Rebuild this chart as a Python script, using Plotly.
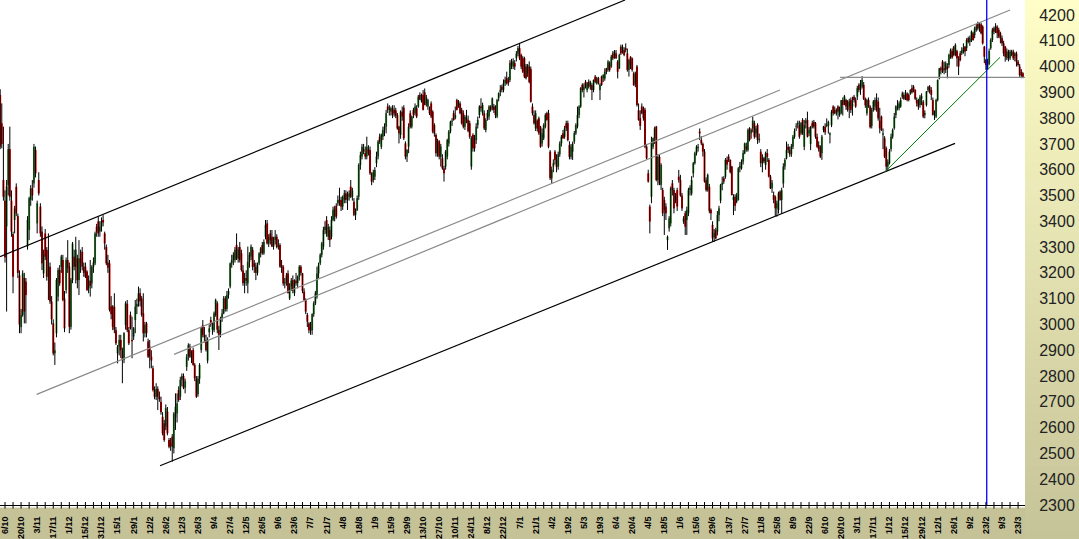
import plotly.graph_objects as go

# ---------------- data ----------------
date_labels = ["6/10","20/10","3/11","17/11","1/12","15/12","31/12","15/1","29/1","12/2",
               "26/2","12/3","26/3","9/4","27/4","12/5","26/5","9/6","23/6","7/7",
               "21/7","4/8","18/8","1/9","15/9","29/9","13/10","27/10","10/11","24/11",
               "8/12","22/12","7/1","21/1","4/2","19/2","5/3","19/3","6/4","20/4",
               "4/5","18/5","1/6","15/6","29/6","13/7","27/7","11/8","25/8","8/9",
               "22/9","6/10","20/10","3/11","17/11","1/12","15/12","29/12","12/1","26/1",
               "9/2","23/2","9/3","23/3"]
first_label_day = 3          # trading-day index of the first date label
days_per_label = 10
days_per_tick = 5

price_ticks = list(range(2300, 4201, 100))
price_min, price_max = 2300, 4258

opens = [
3890,3780,3560,3480,3380,3540,3680,3480,3350,3405,
3534,3420,3190,2990,3037,3180,3166,3302,3366,3483,
3528,3547,3676,3392,3560,3457,3360,3198,3353,3289,
3185,3224,3089,3004,2888,2966,3108,3211,3224,3250,
3100,3134,3250,3224,2991,3172,3263,3224,3256,3172,
3256,3282,3224,3224,3205,3140,3170,3159,3224,3237,
3379,3400,3360,3380,3405,3353,3300,3240,3237,3070,
3069,3069,2978,2888,2914,2940,2900,2862,2998,3080,
2978,3037,2940,2953,3017,3069,3089,3121,3101,3043,
2966,3004,2934,2914,2875,2830,2746,2720,2750,2720,
2700,2642,2617,2604,2662,2552,2540,2565,2520,2640,
2655,2746,2720,2785,2800,2755,2836,2875,2914,2875,
2901,2843,2790,2730,2790,2901,2998,2960,2940,2860,
2970,3017,2980,2978,3037,3082,2980,2966,3024,3043,
3101,3060,3115,3147,3237,3250,3250,3308,3256,3300,
3276,3210,3160,3180,3159,3243,3263,3289,3237,3224,
3200,3237,3276,3308,3276,3340,3392,3314,3353,3340,
3302,3327,3340,3300,3308,3230,3224,3159,3165,3198,
3101,3147,3172,3121,3170,3160,3185,3224,3198,3128,
3095,3037,3004,2990,2978,3040,3082,3108,3198,3237,
3270,3302,3366,3405,3340,3366,3340,3405,3418,3460,
3470,3483,3483,3457,3483,3508,3483,3495,3534,3495,
3476,3425,3444,3495,3618,3651,3680,3664,3651,3680,
3676,3586,3560,3573,3625,3651,3728,3689,3728,3754,
3767,3845,3832,3825,3838,3832,3830,3812,3767,3735,
3825,3840,3702,3651,3689,3819,3767,3832,3819,3838,
3845,3890,3865,3890,3900,3857,3845,3832,3857,3825,
3773,3735,3664,3710,3650,3644,3605,3612,3651,3702,
3748,3786,3819,3800,3870,3845,3857,3832,3819,3767,
3800,3793,3780,3612,3735,3722,3715,3773,3812,3845,
3819,3819,3754,3800,3806,3845,3838,3845,3845,3806,
3877,3900,3922,3909,3935,3955,3950,3948,4019,4000,
4013,4032,4050,4071,4045,4032,4032,4000,3974,4000,
3990,3845,3812,3760,3790,3800,3767,3702,3722,3767,
3819,3819,3670,3567,3612,3670,3638,3612,3660,3702,
3741,3728,3780,3780,3696,3650,3670,3709,3741,3767,
3812,3845,3929,3909,3941,3909,3941,3922,3928,3909,
3961,3935,3955,3909,3961,3954,3954,3993,3987,4013,
4000,4051,4038,4051,4019,3993,4077,4058,4064,4071,
4051,3987,4038,4032,3974,3935,4000,3830,3800,3845,
3838,3832,3689,3586,3457,3495,3689,3722,3767,3560,
3650,3541,3521,3483,3457,3327,3373,3392,3547,3521,
3483,3521,3573,3560,3500,3399,3431,3405,3431,3521,
3508,3586,3625,3664,3683,3748,3715,3700,3670,3560,
3521,3534,3444,3386,3340,3366,3360,3424,3480,3541,
3567,3573,3638,3651,3638,3612,3483,3495,3476,3483,
3605,3605,3631,3664,3690,3676,3760,3741,3760,3780,
3740,3773,3715,3670,3625,3645,3618,3664,3638,3573,
3528,3502,3495,3450,3444,3515,3483,3547,3612,3644,
3689,3676,3660,3689,3728,3767,3775,3773,3741,3793,
3689,3780,3793,3741,3700,3780,3785,3780,3728,3695,
3689,3664,3754,3767,3775,3770,3735,3773,3845,3832,
3819,3845,3812,3819,3870,3857,3870,3864,3845,3870,
3845,3883,3870,3883,3929,3909,3922,3929,3875,3819,
3870,3845,3770,3832,3845,3870,3864,3790,3806,3735,
3722,3683,3612,3625,3680,3728,3761,3812,3838,3838,
3845,3883,3890,3875,3896,3890,3896,3916,3922,3909,
3870,3870,3851,3875,3864,3812,3851,3909,3922,3909,
3870,3812,3806,3870,3954,3993,4019,3993,3987,4000,
4006,4038,4060,4077,4045,4060,4030,4051,4051,4058,
4077,4071,4110,4095,4103,4129,4122,4142,4168,4148,
4164,4155,4077,4025,3990,4010,4071,4103,4148,4135,
4155,4142,4129,4110,4090,4077,4032,4058,4032,4045,
4058,4040,4051,4019,4000,3980,3974]

highs = [
3912,3857,3767,3520,3560,3700,3767,3520,3360,3460,
3547,3430,3210,3060,3210,3200,3180,3420,3495,3540,
3560,3700,3690,3480,3590,3470,3380,3290,3370,3300,
3353,3240,3110,3020,2930,3180,3220,3230,3270,3270,
3130,3260,3327,3240,3180,3320,3290,3340,3270,3327,
3290,3300,3240,3240,3210,3190,3250,3230,3260,3360,
3390,3418,3400,3415,3424,3360,3310,3270,3250,3110,
3075,3121,2990,2920,2960,2960,2910,2970,3090,3095,
2990,3050,3030,2990,3095,3100,3147,3140,3110,3121,
3010,3010,2945,2940,2900,2840,2760,2772,2760,2740,
2720,2660,2630,2690,2680,2560,2560,2575,2660,2733,
2733,2760,2797,2810,2810,2790,2885,2927,2925,2900,
2910,2850,2800,2800,2850,2990,3017,2990,2960,2950,
3000,3030,3010,3050,3100,3090,2995,3030,3060,3110,
3110,3130,3140,3240,3270,3280,3300,3353,3300,3320,
3290,3230,3200,3210,3302,3280,3310,3300,3250,3240,
3240,3280,3300,3320,3330,3405,3405,3350,3366,3366,
3340,3366,3350,3330,3315,3250,3230,3180,3200,3210,
3160,3180,3190,3175,3200,3190,3230,3230,3200,3140,
3101,3045,3010,3010,3043,3090,3130,3224,3240,3276,
3320,3379,3400,3420,3390,3380,3420,3457,3460,3470,
3500,3530,3495,3500,3521,3520,3515,3520,3560,3530,
3490,3450,3500,3625,3670,3700,3700,3690,3728,3695,
3690,3590,3600,3610,3670,3715,3740,3740,3767,3780,
3832,3857,3850,3845,3850,3850,3840,3820,3770,3830,
3845,3850,3710,3680,3780,3830,3810,3840,3857,3850,
3890,3900,3895,3909,3915,3890,3875,3845,3865,3830,
3780,3741,3720,3715,3700,3660,3615,3676,3720,3754,
3790,3800,3830,3845,3875,3870,3865,3840,3830,3812,
3832,3810,3790,3730,3741,3735,3780,3806,3850,3877,
3860,3830,3800,3832,3850,3850,3880,3855,3850,3875,
3900,3928,3930,3950,3961,3980,3960,4025,4030,4032,
4025,4060,4080,4090,4050,4040,4038,4010,4010,4020,
4000,3857,3830,3830,3795,3806,3770,3760,3780,3819,
3825,3832,3676,3612,3640,3676,3660,3670,3710,3735,
3754,3770,3790,3790,3710,3700,3709,3750,3780,3845,
3850,3920,3935,3935,3948,3940,3950,3945,3935,3950,
3967,3960,3960,3935,3965,3970,3993,3995,4025,4020,
4045,4060,4064,4064,4025,4050,4085,4085,4075,4090,
4070,4030,4040,4035,3980,3980,4006,3857,3830,3857,
3845,3840,3700,3600,3465,3728,3725,3767,3770,3660,
3660,3625,3530,3495,3470,3345,3420,3535,3560,3530,
3510,3530,3599,3580,3510,3420,3440,3457,3530,3540,
3575,3630,3670,3695,3700,3760,3730,3705,3680,3570,
3585,3545,3450,3400,3370,3375,3440,3460,3545,3573,
3575,3645,3651,3660,3640,3615,3505,3505,3510,3610,
3630,3640,3676,3705,3705,3760,3765,3760,3806,3790,
3770,3780,3740,3680,3660,3650,3670,3680,3645,3580,
3560,3515,3500,3480,3515,3520,3530,3625,3645,3709,
3700,3690,3700,3735,3760,3780,3790,3790,3785,3800,
3793,3800,3825,3765,3770,3790,3793,3785,3740,3710,
3695,3735,3770,3780,3799,3790,3745,3832,3850,3845,
3838,3850,3845,3870,3880,3890,3875,3870,3875,3880,
3883,3890,3880,3925,3935,3948,3963,3940,3880,3875,
3880,3850,3840,3870,3880,3896,3880,3840,3810,3760,
3730,3690,3640,3680,3740,3760,3820,3850,3870,3865,
3880,3903,3900,3909,3900,3896,3912,3929,3928,3912,
3880,3875,3890,3896,3870,3830,3905,3925,3928,3920,
3880,3830,3875,3950,3995,4000,4025,4019,4020,4013,
4050,4070,4070,4080,4090,4065,4040,4060,4075,4090,
4080,4110,4116,4120,4140,4135,4155,4165,4174,4168,
4170,4160,4080,4030,4030,4070,4110,4150,4155,4168,
4160,4150,4135,4120,4100,4080,4070,4065,4065,4065,
4065,4055,4058,4025,4010,3990,3978]

lows = [
3680,3683,3480,3240,3050,3500,3480,3340,3121,3353,
3420,3180,2966,2966,3030,3004,3004,3290,3327,3460,
3480,3530,3570,3353,3500,3340,3211,3180,3250,3170,
3095,3080,3000,2880,2843,2950,3090,3150,3200,3090,
2970,3120,3200,2966,2980,3160,3210,3159,3140,3114,
3200,3210,3185,3180,3130,3121,3108,3140,3200,3230,
3340,3340,3340,3360,3380,3290,3230,3200,3050,3020,
2978,2966,2920,2849,2880,2870,2772,2850,2980,2970,
2920,2980,2869,2940,2966,3040,3069,3070,3030,2934,
2950,2950,2870,2830,2830,2740,2710,2707,2668,2700,
2650,2570,2545,2590,2570,2520,2510,2468,2500,2591,
2620,2700,2707,2760,2749,2733,2820,2860,2870,2850,
2840,2780,2715,2720,2770,2890,2950,2930,2895,2849,
2950,2990,2960,2970,3030,2966,2901,2950,3010,3040,
3050,3050,3100,3140,3220,3230,3240,3250,3240,3240,
3205,3150,3121,3150,3121,3220,3250,3210,3200,3172,
3190,3230,3260,3270,3270,3330,3310,3300,3310,3300,
3290,3310,3295,3290,3220,3200,3150,3140,3150,3121,
3095,3130,3121,3110,3150,3140,3170,3190,3121,3090,
3040,2990,2966,2960,2960,3030,3075,3100,3180,3230,
3260,3290,3350,3340,3327,3300,3330,3400,3400,3410,
3460,3460,3440,3444,3470,3470,3444,3480,3490,3480,
3420,3405,3440,3483,3600,3640,3660,3640,3640,3655,
3580,3540,3550,3560,3610,3640,3700,3680,3715,3730,
3741,3820,3810,3810,3800,3806,3800,3755,3702,3720,
3790,3715,3640,3630,3664,3760,3760,3800,3810,3800,
3840,3870,3860,3830,3850,3845,3832,3812,3800,3741,
3728,3651,3650,3640,3612,3600,3554,3600,3640,3690,
3741,3770,3790,3795,3830,3840,3815,3775,3760,3754,
3780,3745,3720,3600,3670,3670,3700,3760,3800,3825,
3810,3754,3745,3790,3793,3825,3830,3820,3800,3800,
3865,3885,3900,3900,3925,3930,3925,3940,3990,3990,
3987,4020,4040,4025,3990,3975,3955,3950,3960,3935,
3860,3810,3775,3750,3748,3735,3685,3690,3715,3760,
3790,3683,3560,3547,3590,3620,3590,3600,3650,3690,
3720,3720,3750,3710,3640,3640,3638,3700,3735,3760,
3800,3840,3900,3880,3915,3900,3915,3910,3870,3900,
3935,3930,3930,3870,3925,3940,3945,3970,3980,3980,
3995,4025,4030,4030,3954,3990,4045,4050,4040,4055,
3980,3961,3990,3980,3925,3920,3845,3790,3754,3815,
3790,3683,3640,3550,3353,3470,3680,3700,3555,3540,
3540,3521,3420,3347,3405,3289,3360,3380,3500,3431,
3470,3440,3550,3495,3440,3390,3347,3347,3420,3500,
3500,3570,3620,3655,3670,3715,3695,3651,3550,3515,
3515,3431,3405,3321,3321,3330,3345,3400,3470,3520,
3545,3565,3600,3630,3586,3500,3424,3440,3470,3480,
3590,3600,3620,3660,3670,3670,3710,3720,3745,3720,
3725,3700,3705,3610,3590,3625,3600,3630,3570,3525,
3510,3470,3420,3418,3430,3480,3431,3530,3600,3640,
3665,3650,3650,3680,3720,3750,3760,3720,3735,3735,
3676,3760,3725,3730,3676,3760,3760,3720,3685,3670,
3645,3638,3745,3735,3765,3740,3702,3765,3810,3815,
3810,3795,3805,3815,3810,3850,3832,3825,3800,3820,
3810,3860,3840,3870,3900,3890,3915,3870,3840,3810,
3840,3760,3760,3825,3830,3825,3790,3741,3750,3680,
3645,3592,3600,3620,3670,3720,3755,3800,3830,3830,
3840,3875,3870,3870,3865,3865,3890,3895,3900,3870,
3845,3832,3840,3850,3800,3799,3845,3900,3895,3870,
3810,3793,3800,3865,3950,3970,3975,3970,3975,3954,
3995,4030,4030,4040,4040,4000,3967,4020,4045,4050,
4040,4060,4090,4080,4095,4100,4110,4135,4140,4135,
4125,4085,4013,3987,3987,4005,4065,4095,4125,4130,
4110,4110,4090,4080,4040,4019,4025,4020,4025,4040,
4025,4020,4000,4000,3960,3955,3955]

closes = [
3690,3700,3495,3260,3535,3680,3495,3360,3185,3450,
3431,3200,3000,3037,3198,3050,3114,3405,3489,3528,
3500,3689,3586,3470,3508,3353,3237,3270,3263,3185,
3224,3089,3020,2888,2900,3172,3211,3160,3263,3095,
2985,3250,3220,2991,3172,3314,3224,3290,3172,3256,
3240,3224,3200,3185,3134,3170,3150,3224,3240,3353,
3360,3353,3380,3400,3395,3314,3237,3220,3056,3040,
2991,2980,2927,2914,2940,2900,2862,2966,3082,2978,
2927,2985,2935,2985,3069,3080,3121,3090,3037,2966,
2998,2966,2875,2875,2860,2746,2720,2750,2720,2710,
2660,2578,2552,2675,2578,2526,2530,2526,2655,2680,
2694,2707,2785,2800,2755,2780,2875,2920,2875,2890,
2843,2791,2720,2790,2843,2985,2960,2950,2901,2940,
2985,3000,2990,3043,3095,2980,2960,3024,3043,3101,
3060,3115,3130,3237,3250,3270,3289,3256,3290,3250,
3211,3160,3180,3170,3243,3270,3302,3224,3224,3200,
3230,3276,3295,3276,3320,3386,3314,3340,3327,3302,
3327,3340,3300,3305,3224,3220,3159,3165,3190,3121,
3147,3170,3130,3170,3160,3185,3224,3200,3130,3095,
3050,3011,2978,2975,3040,3082,3121,3198,3230,3270,
3314,3366,3379,3353,3379,3327,3405,3444,3450,3418,
3483,3470,3457,3495,3508,3483,3500,3508,3495,3520,
3425,3444,3490,3618,3657,3689,3670,3651,3689,3664,
3586,3554,3590,3599,3651,3709,3709,3735,3754,3767,
3819,3832,3840,3838,3812,3819,3810,3760,3741,3825,
3806,3722,3651,3676,3767,3767,3806,3813,3845,3806,
3883,3872,3888,3832,3851,3880,3870,3819,3806,3748,
3741,3664,3710,3651,3690,3605,3586,3670,3715,3748,
3786,3790,3793,3812,3832,3860,3819,3780,3767,3806,
3785,3750,3728,3722,3683,3683,3767,3793,3845,3838,
3851,3760,3793,3820,3845,3832,3877,3832,3812,3870,
3896,3910,3909,3935,3948,3935,3935,4013,4006,4020,
4000,4050,4071,4032,4000,3980,3961,3955,4006,3940,
3864,3819,3780,3819,3760,3741,3689,3741,3773,3812,
3793,3689,3567,3600,3625,3638,3610,3660,3702,3728,
3722,3760,3760,3715,3650,3690,3700,3741,3773,3812,
3845,3916,3909,3922,3922,3935,3922,3941,3909,3948,
3941,3955,3935,3930,3929,3967,3980,3980,4019,3987,
4038,4032,4058,4032,3980,4045,4051,4077,4045,4064,
3987,4025,4006,3987,3928,3970,3851,3793,3770,3819,
3800,3689,3644,3554,3399,3702,3722,3760,3560,3650,
3547,3618,3431,3444,3431,3340,3411,3528,3521,3450,
3500,3457,3560,3500,3450,3411,3379,3444,3521,3530,
3560,3625,3664,3689,3689,3741,3702,3670,3554,3521,
3580,3440,3431,3334,3355,3334,3424,3450,3541,3550,
3554,3638,3620,3638,3590,3502,3495,3460,3502,3605,
3615,3631,3665,3702,3680,3754,3715,3754,3790,3728,
3760,3715,3720,3625,3645,3632,3664,3650,3573,3528,
3550,3483,3450,3470,3508,3483,3520,3612,3638,3676,
3676,3660,3690,3728,3750,3770,3782,3728,3780,3741,
3773,3790,3728,3754,3767,3767,3767,3728,3689,3680,
3651,3728,3767,3745,3770,3785,3741,3825,3819,3819,
3832,3825,3840,3870,3851,3885,3845,3832,3864,3832,
3857,3870,3845,3916,3909,3935,3948,3875,3850,3870,
3845,3765,3832,3865,3870,3832,3799,3760,3754,3741,
3651,3612,3630,3670,3728,3754,3806,3845,3845,3857,
3870,3896,3875,3890,3870,3870,3909,3900,3909,3875,
3857,3845,3883,3885,3806,3820,3903,3920,3903,3890,
3812,3825,3870,3948,3993,3987,3980,3987,4013,3990,
4045,4064,4035,4045,4084,4032,4000,4025,4064,4071,
4058,4103,4096,4110,4135,4103,4148,4155,4148,4160,
4129,4090,4038,4006,4019,4060,4103,4142,4135,4155,
4129,4116,4110,4090,4051,4038,4058,4032,4058,4058,
4032,4051,4019,4006,3967,3965,3957]

# hand-drawn analysis lines: [day0, price0, day1, price1]
upper_channel = [-0.11, 3263, 388.6, 4258]
lower_channel = [99.4, 2452, 593.8, 3702]
gray_line_a = [22.7, 2729, 484.9, 3909]
gray_line_b = [108.1, 2884, 628.0, 4219]
level_line = [522.3, 3958, 640.0, 3958]
green_trend = [550.3, 3592, 621.8, 4036]
marker_day = 613.5

# ---------------- figure ----------------
n = min(len(opens), len(highs), len(lows), len(closes))
days = list(range(n))
W, H = 1079, 539
ML, MR, MT, MB = 0, 54, 0, 34
plot_w, plot_h = W - ML - MR, H - MT - MB

fig = go.Figure()

# wicks
wx, wy = [], []
for i in days:
    lo = min(lows[i], opens[i], closes[i])
    hi = max(highs[i], opens[i], closes[i])
    wx += [i, i, None]
    wy += [lo, hi, None]
fig.add_trace(go.Scatter(x=wx, y=wy, mode="lines", line=dict(color="black", width=1),
                         hoverinfo="skip", showlegend=False))

# bodies
base = [min(opens[i], closes[i]) for i in days]
height = [max(abs(closes[i] - opens[i]), 3) for i in days]
colors = ["#3c9a3c" if closes[i] >= opens[i] else "#ff0000" for i in days]
fig.add_trace(go.Bar(x=days, base=base, y=height, width=1.25,
                     marker=dict(color=colors, line=dict(width=0)),
                     hoverinfo="skip", showlegend=False))


# analysis lines (clipped to the plot area)
def add_line(p, color, width=1.2):
    fig.add_trace(go.Scatter(x=[p[0], p[2]], y=[p[1], p[3]], mode="lines",
                             line=dict(color=color, width=width),
                             hoverinfo="skip", showlegend=False))


add_line(upper_channel, "black")
add_line(lower_channel, "black")
add_line(gray_line_a, "#8a8a8a")
add_line(gray_line_b, "#8a8a8a")
add_line(level_line, "#8a8a8a")
add_line(green_trend, "#007a00", 1.0)

label_days = [first_label_day + k * days_per_label for k in range(len(date_labels))]

shapes = []
# right-hand gradient panel
top_rgb = (255, 255, 200)
bot_rgb = (197, 194, 152)
N = 60
x_right = W / plot_w
for j in range(N):
    t = (j + 0.5) / N
    c = tuple(round(top_rgb[k] + (bot_rgb[k] - top_rgb[k]) * t) for k in range(3))
    y0_px = j * H / N
    y1_px = (j + 1) * H / N + 0.5
    shapes.append(dict(type="rect", xref="paper", yref="paper", layer="below",
                       x0=1.0, x1=x_right,
                       y0=(plot_h - y1_px) / plot_h, y1=(plot_h - y0_px) / plot_h,
                       fillcolor="rgb(%d,%d,%d)" % c, line=dict(width=0)))
# thin white strip under the axis line
shapes.append(dict(type="rect", xref="paper", yref="paper", layer="below",
                   x0=0, x1=1, y0=-2.5 / plot_h, y1=0, fillcolor="white", line=dict(width=0)))
# blue marker line across the full plot height
shapes.append(dict(type="line", xref="x", yref="paper", x0=marker_day, x1=marker_day,
                   y0=0, y1=1, line=dict(color="#0000ff", width=1.3), layer="above"))
# short tick crosses on the time axis (half above, half below the axis line)
for d in range(first_label_day, n + 1, days_per_tick):
    shapes.append(dict(type="line", xref="x", yref="paper", x0=d, x1=d,
                       y0=-3.5 / plot_h, y1=3.0 / plot_h,
                       line=dict(color="black", width=1), layer="above"))

fig.update_layout(
    width=W, height=H,
    margin=dict(l=ML, r=MR, t=MT, b=MB, pad=0),
    paper_bgcolor="rgb(197,194,152)",
    plot_bgcolor="white",
    barmode="overlay",
    showlegend=False,
    hovermode=False,
    shapes=shapes,
    xaxis=dict(range=[-0.112, 637.3], showgrid=False, zeroline=False,
               showline=True, linecolor="black", linewidth=1,
               tickmode="array", tickvals=label_days, ticktext=date_labels,
               tickangle=-90, ticks="outside", ticklen=7, tickcolor="rgba(0,0,0,0)",
               ticklabeloverflow="allow",
               tickfont=dict(family="Liberation Sans, Arial, sans-serif", size=9,
                             color="black", weight="bold"),
               automargin=False, fixedrange=True),
    yaxis=dict(range=[price_min, price_max], side="right", showgrid=False, zeroline=False,
               showline=False, tickmode="array", tickvals=price_ticks,
               ticktext=[str(v) for v in price_ticks],
               ticks="outside", ticklen=10, tickcolor="rgba(0,0,0,0)",
               tickfont=dict(family="Liberation Sans, Arial, sans-serif", size=16, color="#222222"),
               automargin=False, fixedrange=True),
)

fig.write_html("out.html",
               config={"displayModeBar": False, "staticPlot": True},
               post_script="document.body.style.margin='0';document.body.style.overflow='hidden';")
